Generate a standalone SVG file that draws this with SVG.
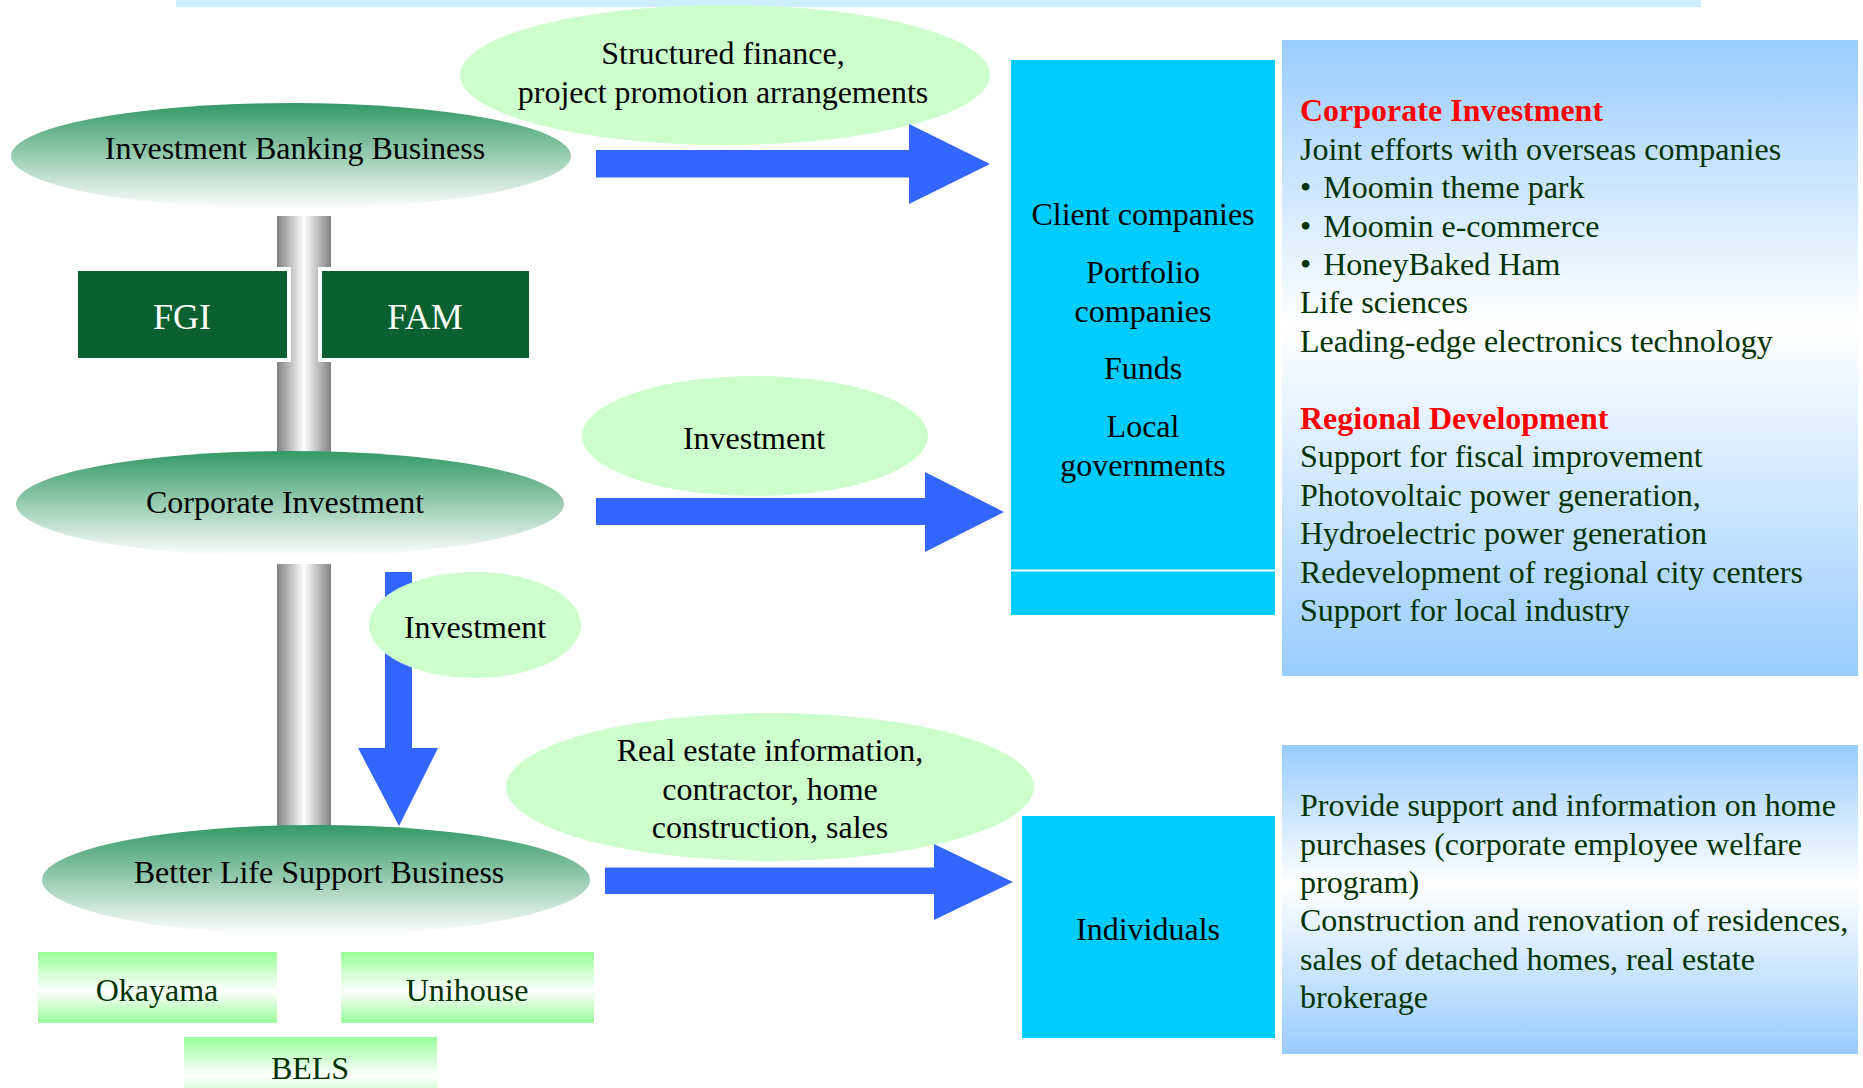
<svg xmlns="http://www.w3.org/2000/svg" width="1863" height="1088" viewBox="0 0 1863 1088">
<defs>
  <linearGradient id="gEll" x1="0" y1="0" x2="0" y2="1">
    <stop offset="0" stop-color="#339966"/>
    <stop offset="1" stop-color="#ffffff"/>
  </linearGradient>
  <linearGradient id="gPillar" x1="0" y1="0" x2="1" y2="0">
    <stop offset="0" stop-color="#808080"/>
    <stop offset="0.5" stop-color="#ffffff"/>
    <stop offset="1" stop-color="#808080"/>
  </linearGradient>
  <linearGradient id="gSub" x1="0" y1="0" x2="0" y2="1">
    <stop offset="0" stop-color="#99ff99"/>
    <stop offset="0.55" stop-color="#ffffff"/>
    <stop offset="1" stop-color="#99ff99"/>
  </linearGradient>
  <linearGradient id="gBlue" x1="0" y1="0" x2="0" y2="1">
    <stop offset="0" stop-color="#99ccff"/>
    <stop offset="0.45" stop-color="#ffffff"/>
    <stop offset="1" stop-color="#99ccff"/>
  </linearGradient>
</defs>
<style>
  text { font-family: "Liberation Serif", "Times New Roman", serif; font-size: 32px; }
  .c { text-anchor: middle; fill: #000000; }
  .dg { fill: #003300; }
  .red { fill: #ff0000; font-weight: bold; }
  .lbl { fill: #ccffcc; }
  .arr { fill: #3366ff; }
  .cyan { fill: #00ccff; }
  .wt { fill: #ffffff; font-size: 36px; text-anchor: middle; }
</style>
<rect x="0" y="0" width="1863" height="1088" fill="#ffffff"/>
<rect id="topbar" x="176" y="0" width="1525" height="7" fill="#cceeff"/>

<g id="connectors">
  <rect x="277" y="216" width="54" height="240" fill="url(#gPillar)"/>
  <rect x="277" y="564" width="54" height="264" fill="url(#gPillar)"/>
  <polygon class="arr" points="385,572 412,572 412,748 438,748 399,826 358,748 385,748"/>
</g>

<g id="label-structured">
  <ellipse class="lbl" cx="725" cy="75" rx="265" ry="70"/>
  <text class="c" x="723" y="64">Structured finance,</text>
  <text class="c" x="723" y="102.5">project promotion arrangements</text>
</g>
<g id="label-investment-1">
  <ellipse class="lbl" cx="755" cy="436" rx="173" ry="60"/>
  <text class="c" x="754" y="449">Investment</text>
</g>
<g id="label-investment-2">
  <ellipse class="lbl" cx="475" cy="625" rx="106" ry="53"/>
  <text class="c" x="475" y="638">Investment</text>
</g>
<g id="label-realestate">
  <ellipse class="lbl" cx="770" cy="787" rx="264" ry="74"/>
  <text class="c" x="770" y="761">Real estate information,</text>
  <text class="c" x="770" y="800">contractor, home</text>
  <text class="c" x="770" y="838">construction, sales</text>
</g>

<g id="arrows">
  <polygon class="arr" points="596,150 909,150 909,124 990,164 909,204 909,177.5 596,177.5"/>
  <polygon class="arr" points="596,498 925,498 925,472 1004,512 925,552 925,525 596,525"/>
  <polygon class="arr" points="605,867.5 934,867.5 934,844 1013,882 934,920 934,894 605,894"/>
</g>

<g id="node-ibb">
  <ellipse cx="291" cy="156" rx="280" ry="53" fill="url(#gEll)"/>
  <text class="c" x="295" y="159">Investment Banking Business</text>
</g>
<g id="node-fgi">
  <rect x="74" y="267" width="217" height="95" fill="#ffffff"/>
  <rect x="78" y="271" width="209" height="87" fill="#0a602e"/>
  <text class="wt" x="182" y="329">FGI</text>
</g>
<g id="node-fam">
  <rect x="318" y="267" width="215" height="95" fill="#ffffff"/>
  <rect x="322" y="271" width="207" height="87" fill="#0a602e"/>
  <text class="wt" x="425" y="329">FAM</text>
</g>
<g id="node-ci">
  <ellipse cx="290" cy="504" rx="274" ry="53" fill="url(#gEll)"/>
  <text class="c" x="285" y="513">Corporate Investment</text>
</g>
<g id="node-bls">
  <ellipse cx="316" cy="880" rx="274" ry="55" fill="url(#gEll)"/>
  <text class="c" x="319" y="883">Better Life Support Business</text>
</g>
<g id="node-okayama">
  <rect x="38" y="952" width="239" height="71" fill="url(#gSub)"/>
  <text class="c dg" x="157" y="1001">Okayama</text>
</g>
<g id="node-unihouse">
  <rect x="341" y="952" width="253" height="71" fill="url(#gSub)"/>
  <text class="c dg" x="467" y="1001">Unihouse</text>
</g>
<g id="node-bels">
  <rect x="184" y="1037" width="253" height="71" fill="url(#gSub)"/>
  <text class="c dg" x="310" y="1079">BELS</text>
</g>

<g id="node-clients">
  <rect class="cyan" x="1011" y="60" width="264" height="555"/>
  <line x1="1011" y1="570.5" x2="1275" y2="570.5" stroke="#ffffff" stroke-width="2"/>
  <text class="c" x="1143" y="225">Client companies</text>
  <text class="c" x="1143" y="283">Portfolio</text>
  <text class="c" x="1143" y="321.5">companies</text>
  <text class="c" x="1143" y="379">Funds</text>
  <text class="c" x="1143" y="437">Local</text>
  <text class="c" x="1143" y="475.5">governments</text>
</g>
<g id="node-individuals">
  <rect class="cyan" x="1022" y="816" width="253" height="222"/>
  <text class="c" x="1148" y="940">Individuals</text>
</g>

<g id="panel-corporate">
  <rect x="1282" y="40" width="576" height="636" fill="url(#gBlue)"/>
  <text class="red" x="1300" y="121">Corporate Investment</text>
  <text class="dg" x="1300" y="160">Joint efforts with overseas companies</text>
  <text class="dg" x="1300" y="198">•<tspan dx="4"> Moomin theme park</tspan></text>
  <text class="dg" x="1300" y="237">•<tspan dx="4"> Moomin e-commerce</tspan></text>
  <text class="dg" x="1300" y="275">•<tspan dx="4"> HoneyBaked Ham</tspan></text>
  <text class="dg" x="1300" y="313">Life sciences</text>
  <text class="dg" x="1300" y="352">Leading-edge electronics technology</text>
  <text class="red" x="1300" y="429">Regional Development</text>
  <text class="dg" x="1300" y="467">Support for fiscal improvement</text>
  <text class="dg" x="1300" y="506">Photovoltaic power generation,</text>
  <text class="dg" x="1300" y="544">Hydroelectric power generation</text>
  <text class="dg" x="1300" y="583">Redevelopment of regional city centers</text>
  <text class="dg" x="1300" y="621">Support for local industry</text>
</g>
<g id="panel-individuals">
  <rect x="1282" y="745" width="576" height="309" fill="url(#gBlue)"/>
  <text class="dg" x="1300" y="816">Provide support and information on home</text>
  <text class="dg" x="1300" y="855">purchases (corporate employee welfare</text>
  <text class="dg" x="1300" y="893">program)</text>
  <text class="dg" x="1300" y="931">Construction and renovation of residences,</text>
  <text class="dg" x="1300" y="970">sales of detached homes, real estate</text>
  <text class="dg" x="1300" y="1008">brokerage</text>
</g>
</svg>
